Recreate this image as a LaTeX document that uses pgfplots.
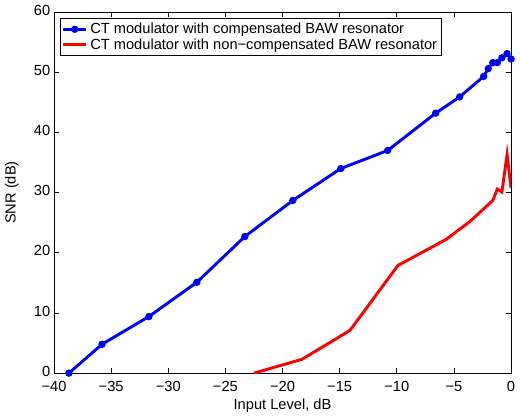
\documentclass[border=0pt]{standalone}
\usepackage{fontspec}
\setmainfont{Liberation Sans}
\usepackage{pgfplots}
\pgfplotsset{compat=1.18}

\begin{document}
\fontsize{11}{13}\selectfont
\begin{tikzpicture}
\begin{axis}[
  scale only axis,
  width=343pt, height=271pt,
  xmin=-40, xmax=0,
  ymin=0, ymax=60,
  xtick={-40,-35,...,0},
  xticklabels={−40,−35,−30,−25,−20,−15,−10,−5,0},
  ytick={0,10,...,60},
  yticklabels={0,10,20,30,40,50,60},
  tick align=inside,
  major tick length=4pt,
  tick style={black, line width=0.5pt},
  axis line style={black, line width=0.6pt},
  xlabel={Input Level, dB},
  ylabel={SNR (dB)},
  xticklabel style={yshift=-2pt},
  yticklabel style={xshift=1pt, yshift=1.5pt},
  xlabel style={yshift=2pt},
  ylabel style={yshift=4pt},
  legend style={at={(rel axis cs:0.012,0.984)}, anchor=north west,
    draw=black, line width=0.6pt, inner sep=1.5pt,
    font=\fontsize{11}{13}\selectfont, row sep=-2pt, cells={anchor=west}},
  legend cell align=left,
  clip=true,
]
  % compensated BAW resonator
  \addplot[blue, line width=2.2pt, mark=*, mark size=1.6pt, mark options={solid, fill=blue}]
  coordinates {
    (-38.7,0) (-35.8,4.8) (-31.7,9.4) (-27.5,15.1) (-23.3,22.7) (-19.1,28.7)
    (-14.9,34.0) (-10.8,37.0) (-6.6,43.2) (-4.5,45.9) (-2.4,49.3) (-2.0,50.6)
    (-1.6,51.6) (-1.2,51.6) (-0.8,52.4) (-0.35,53.1) (0,52.2)
  };
  \addlegendentry{CT modulator with compensated BAW resonator}

  % non-compensated BAW resonator
  \addplot[red, line width=2.2pt]
  coordinates {
    (-22.5,0) (-18.3,2.3) (-14.1,7.1) (-9.9,17.9) (-5.7,22.2) (-3.6,25.2)
    (-1.6,28.7) (-1.2,30.6) (-0.8,30.1) (-0.35,36.3) (0,30.8)
  };
  \addlegendentry{CT modulator with non−compensated BAW resonator}
\end{axis}
\end{tikzpicture}
\end{document}
